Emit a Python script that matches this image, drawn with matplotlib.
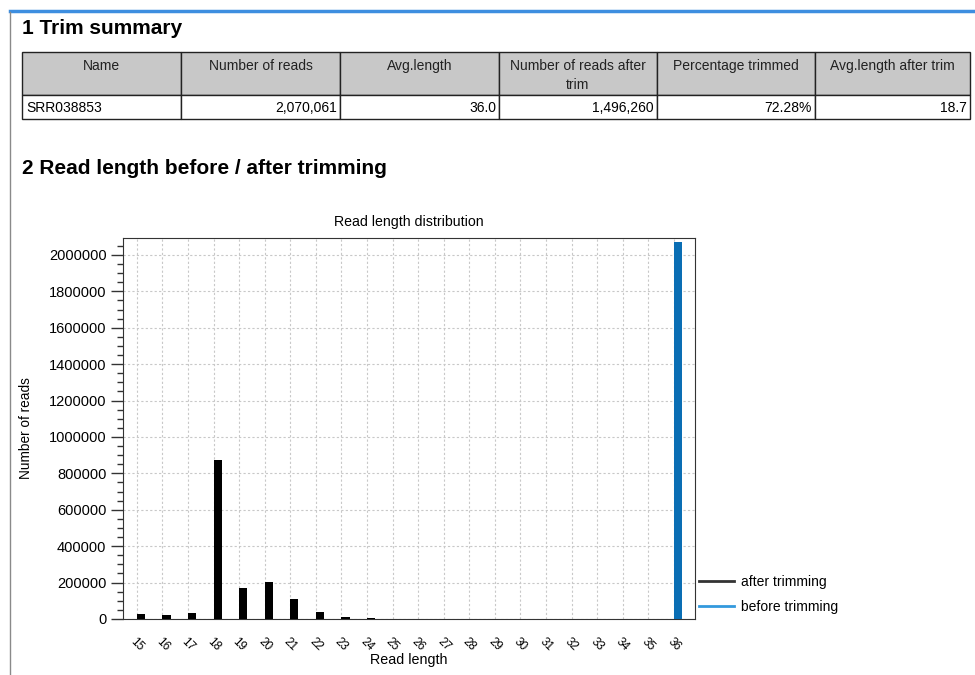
import matplotlib.pyplot as plt
from matplotlib.lines import Line2D
from matplotlib.patches import Rectangle

plt.rcParams['font.family'] = ['Liberation Sans', 'DejaVu Sans']

# Trim summary table
headers = ['Name', 'Number of reads', 'Avg.length', 'Number of reads after\ntrim',
           'Percentage trimmed', 'Avg.length after trim']
row = ['SRR038853', '2,070,061', '36.0', '1,496,260', '72.28%', '18.7']

# Read length distribution
lengths = list(range(15, 37))
after_trim = [27500, 24000, 35000, 872000, 170000, 201000, 112000, 38500, 11000, 7000,
              2000, 1000, 0, 0, 0, 0, 0, 0, 0, 0, 0, 0]
before_trim = [0] * 21 + [2070061]

fig = plt.figure(figsize=(9.75, 6.75), dpi=100)

# page decorations + table on a pixel-coordinate axes
page = fig.add_axes([0, 0, 1, 1])
page.set_xlim(0, 975)
page.set_ylim(675, 0)
page.axis('off')
page.plot([10, 975], [11, 11], color='#3d8ee0', lw=2.5)
page.plot([10, 10], [12, 675], color='#8a8a8a', lw=1)
page.text(22, 29, '1 Trim summary', fontsize=15, fontweight='bold', va='center')
page.text(22, 168, '2 Read length before / after trimming', fontsize=15,
          fontweight='bold', va='center')

col_edges = [22, 181, 340, 499, 657, 815, 970]
y_head, y_row, y_end = 52, 95, 119
for i, (h, v) in enumerate(zip(headers, row)):
    x0, x1 = col_edges[i], col_edges[i + 1]
    page.add_patch(Rectangle((x0, y_head), x1 - x0, y_row - y_head,
                             facecolor='#c8c8c8', edgecolor='#222222', lw=1))
    page.add_patch(Rectangle((x0, y_row), x1 - x0, y_end - y_row,
                             facecolor='white', edgecolor='#222222', lw=1))
    page.text((x0 + x1) / 2, 59, h, ha='center', va='top', fontsize=10,
              linespacing=1.45, color='#222222')
    if i == 0:
        page.text(x0 + 4, 108, v, ha='left', va='center', fontsize=10)
    else:
        page.text(x1 - 3, 108, v, ha='right', va='center', fontsize=10)

# chart
ax = fig.add_axes([0.1262, 0.0830, 0.5867, 0.5644])
pos = list(range(len(lengths)))
ax.bar(pos, after_trim, width=0.32, align='edge', color='black', zorder=3)
ax.bar(pos, before_trim, width=0.32, align='edge', color='#0a6eb4', zorder=3)
ax.set_xlim(-0.54, 21.83)
ax.set_ylim(0, 2093000)
ax.set_xticks(pos)
ax.set_xticklabels([str(v) for v in lengths], rotation=-45, ha='center', va='top',
                   fontsize=8.5)
ax.set_yticks(range(0, 2000001, 200000))
ax.set_yticks(range(0, 2050001, 50000), minor=True)
ax.set_yticklabels([str(v) for v in range(0, 2000001, 200000)], fontsize=10.5)
ax.tick_params(axis='y', which='major', length=9, width=1, color='#333333', pad=3)
ax.tick_params(axis='y', which='minor', length=4.5, width=1, color='#333333')
ax.tick_params(axis='x', length=0, pad=12)
ax.grid(True, which='major', linestyle=(0, (2, 2)), color='#c8c8c8', lw=0.8, zorder=0)
for s in ax.spines.values():
    s.set_color('#333333')
ax.set_title('Read length distribution', fontsize=10.2, pad=9)
ax.set_xlabel('Read length', fontsize=10.3)
ax.xaxis.set_label_coords(0.5, -0.089)
ax.set_ylabel('Number of reads', fontsize=9.8)
ax.yaxis.set_label_coords(-0.157, 0.5)

handles = [Line2D([], [], color='#333333', lw=2), Line2D([], [], color='#3399dd', lw=2)]
ax.legend(handles, ['after trimming', 'before trimming'], loc='lower left',
          bbox_to_anchor=(0.985, -0.02), frameon=False, fontsize=10,
          handlelength=2.5, handletextpad=0.55, labelspacing=0.8)

fig.savefig('out.png', dpi=100)
